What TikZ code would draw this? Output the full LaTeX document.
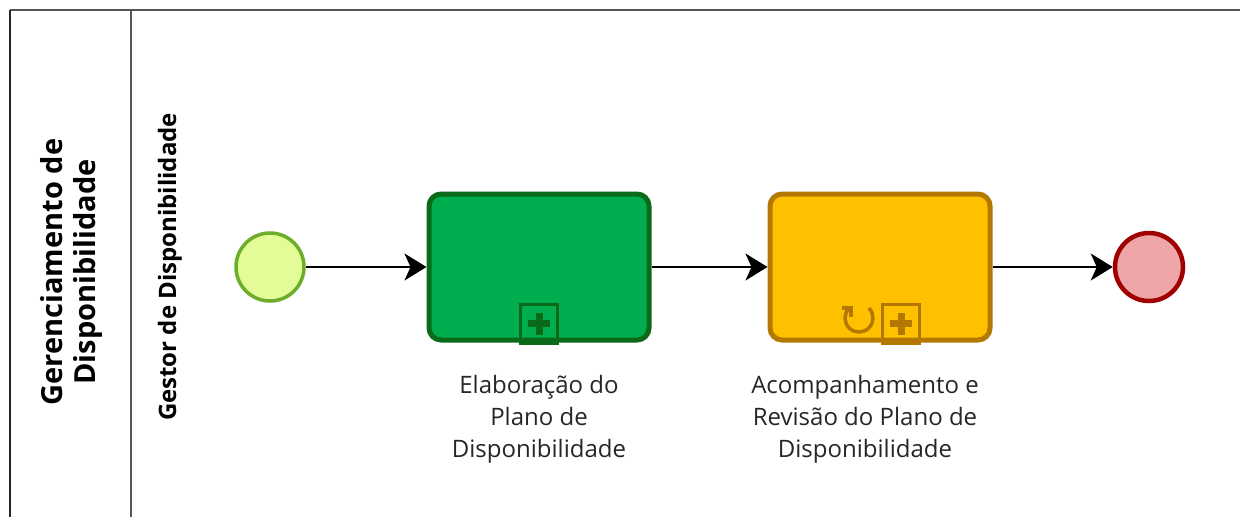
\documentclass[tikz,border=0pt]{standalone}
\usepackage{fontspec}
\setmainfont{Open Sans}
\usetikzlibrary{arrows.meta,calc}
\definecolor{startfill}{HTML}{E3FC97}
\definecolor{startline}{HTML}{6CAE2A}
\definecolor{t1fill}{HTML}{00AE50}
\definecolor{t1line}{HTML}{0A6A1A}
\definecolor{t2fill}{HTML}{FFC000}
\definecolor{t2line}{HTML}{B47800}
\definecolor{endfill}{HTML}{EEA6A8}
\definecolor{endline}{HTML}{A00000}
\definecolor{poolline}{HTML}{555555}
\tikzset{
  evt/.style={circle,minimum size=68pt,inner sep=0pt,line width=3.5pt},
  task/.style={rounded corners=12pt,minimum width=220pt,minimum height=146pt,line width=5pt,inner sep=0pt},
  flow/.style={line width=1.8pt,-{Stealth[length=22pt,width=27pt,inset=6pt]}},
  lbl/.style={align=center,font=\fontsize{24}{32}\selectfont,text=black!85},
  mk/.style={line width=3.5pt},
}
\begin{document}
\begin{tikzpicture}[x=1pt,y=-1pt]
\useasboundingbox (0,0) rectangle (1240,517);
% pool
\draw[poolline,line width=2pt] (10,10) -- (1240,10);
\draw[black!85,line width=2pt] (10,10) -- (10,517);
\draw[poolline,line width=2pt] (131,10) -- (131,517);
\node[rotate=90,align=center,font=\bfseries\fontsize{29}{33}\selectfont] (pool) at (71,272) {Gerenciamento de\\Disponibilidade};
\node[rotate=90,font=\bfseries\fontsize{24}{26}\selectfont] (lane) at (170,267) {Gestor de Disponibilidade};
% events
\node[evt,draw=startline,fill=startfill] (start) at (270,267) {};
\node[evt,draw=endline,fill=endfill,line width=4.5pt] (end) at (1149,267) {};
% tasks
\node[task,draw=t1line,fill=t1fill] (t1) at (539,267) {};
\node[task,draw=t2line,fill=t2fill] (t2) at (880,267) {};
% markers task1
\node[draw=t1line,mk,minimum width=37pt,minimum height=39pt,inner sep=0pt,anchor=south] (m1) at ([yshift=-2.5pt]t1.south) {};
\fill[t1line] ($(m1.center)+(-3.5,-11)$) rectangle ($(m1.center)+(3.5,11)$);
\fill[t1line] ($(m1.center)+(-11,-3.5)$) rectangle ($(m1.center)+(11,3.5)$);
% markers task2
\node[draw=t2line,mk,minimum width=37pt,minimum height=39pt,inner sep=0pt,anchor=south] (m2) at ([xshift=21pt,yshift=-2.5pt]t2.south) {};
\fill[t2line] ($(m2.center)+(-3.5,-11)$) rectangle ($(m2.center)+(3.5,11)$);
\fill[t2line] ($(m2.center)+(-11,-3.5)$) rectangle ($(m2.center)+(11,3.5)$);
\coordinate (lp) at (859,318);
\draw[t2line,line width=3.5pt] ([shift={(-135:14)}]lp) arc[start angle=-135,end angle=-405,radius=14];
\draw[t2line,line width=3.5pt] ([shift={(-135:14)}]lp) ++(-7,0) -- ++(9,0) -- ++(0,9);
% flows
\draw[flow] (start) -- (t1);
\draw[flow] (t1) -- (t2);
\draw[flow] (t2) -- (end);
% labels
\node[lbl] (l1) at (539,419) {Elaboração do\\Plano de\\Disponibilidade};
\node[lbl] (l2) at (865,419) {Acompanhamento e\\Revisão do Plano de\\Disponibilidade};
\end{tikzpicture}
\end{document}
